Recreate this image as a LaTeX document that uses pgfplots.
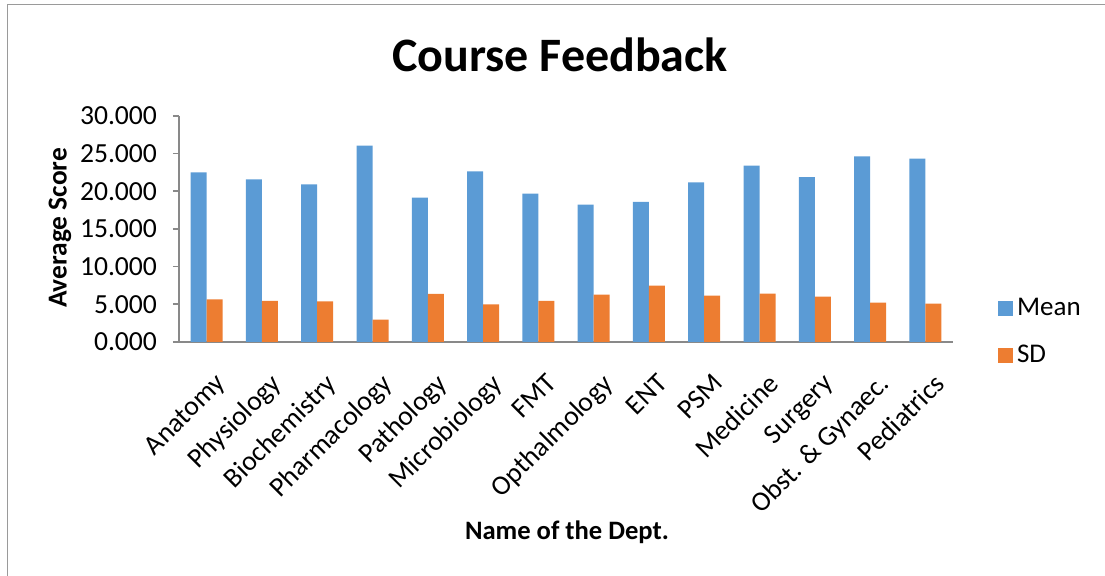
\documentclass[border=0pt]{standalone}
\usepackage{pgfplots}
\pgfplotsset{compat=1.18}
\usepackage{fontspec}
\setmainfont{Carlito}
\definecolor{cblue}{HTML}{5B9BD5}
\definecolor{corange}{HTML}{ED7D31}
\definecolor{axgray}{HTML}{898989}
\definecolor{framegray}{HTML}{9A9A9A}
\begin{document}
\begin{tikzpicture}
\useasboundingbox (0,0) rectangle (552.5pt,288pt);
\draw[framegray, line width=0.8pt] (3.75pt,0) -- (3.75pt,285.75pt) -- (552.5pt,285.75pt);
\begin{axis}[
  at={(89.5pt,117pt)}, anchor=south west,
  scale only axis, width=387pt, height=113.1pt,
  xmin=-0.5, xmax=13.5, ymin=0, ymax=30,
  ybar=0pt, bar width=8pt,
  axis x line*=bottom, axis y line*=left,
  axis line style={axgray, line width=0.8pt},
  ytick={0,5,10,15,20,25,30},
  xtick={0,...,13},
  xticklabels={Anatomy,Physiology,Biochemistry,Pharmacology,Pathology,Microbiology,FMT,Opthalmology,ENT,PSM,Medicine,Surgery,Obst. \& Gynaec.,Pediatrics},
  x tick style={draw=none},
  y tick style={axgray, line width=0.8pt},
  tick align=outside, major tick length=3pt,
  yticklabel style={/pgf/number format/fixed, /pgf/number format/precision=3, /pgf/number format/fixed zerofill, font=\fontsize{13.8}{16}\selectfont, xshift=-4.5pt},
  /pgf/number format/assume math mode=true,
  xticklabel style={rotate=45, anchor=north east, font=\fontsize{13.8}{16}\selectfont, xshift=-2.5pt, yshift=-7.5pt},
  legend style={draw=none, fill=none, at={(1.05,0.044)}, anchor=west, font=\fontsize{13.5}{15}\selectfont, row sep=9pt, legend cell align=left},
  legend image code/.code={\fill[#1] (0pt,-3.75pt) rectangle (7.5pt,3.75pt);},
]
\addplot[fill=cblue, draw=none] coordinates {(0,22.50) (1,21.58) (2,20.90) (3,26.04) (4,19.14) (5,22.63) (6,19.67) (7,18.21) (8,18.57) (9,21.18) (10,23.38) (11,21.88) (12,24.62) (13,24.32)};
\addplot[fill=corange, draw=none] coordinates {(0,5.66) (1,5.44) (2,5.40) (3,2.96) (4,6.37) (5,5.00) (6,5.44) (7,6.28) (8,7.47) (9,6.14) (10,6.41) (11,6.01) (12,5.22) (13,5.08)};
\legend{Mean,SD}
\end{axis}
\node[font=\bfseries\fontsize{24}{28}\selectfont] at (280pt,260.5pt) {Course Feedback};
\node[font=\bfseries\fontsize{13.3}{15}\selectfont] at (283.5pt,22pt) {Name of the Dept.};
\node[font=\bfseries\fontsize{13.7}{15}\selectfont, rotate=90] at (30pt,174pt) {Average Score};
\end{tikzpicture}
\end{document}
